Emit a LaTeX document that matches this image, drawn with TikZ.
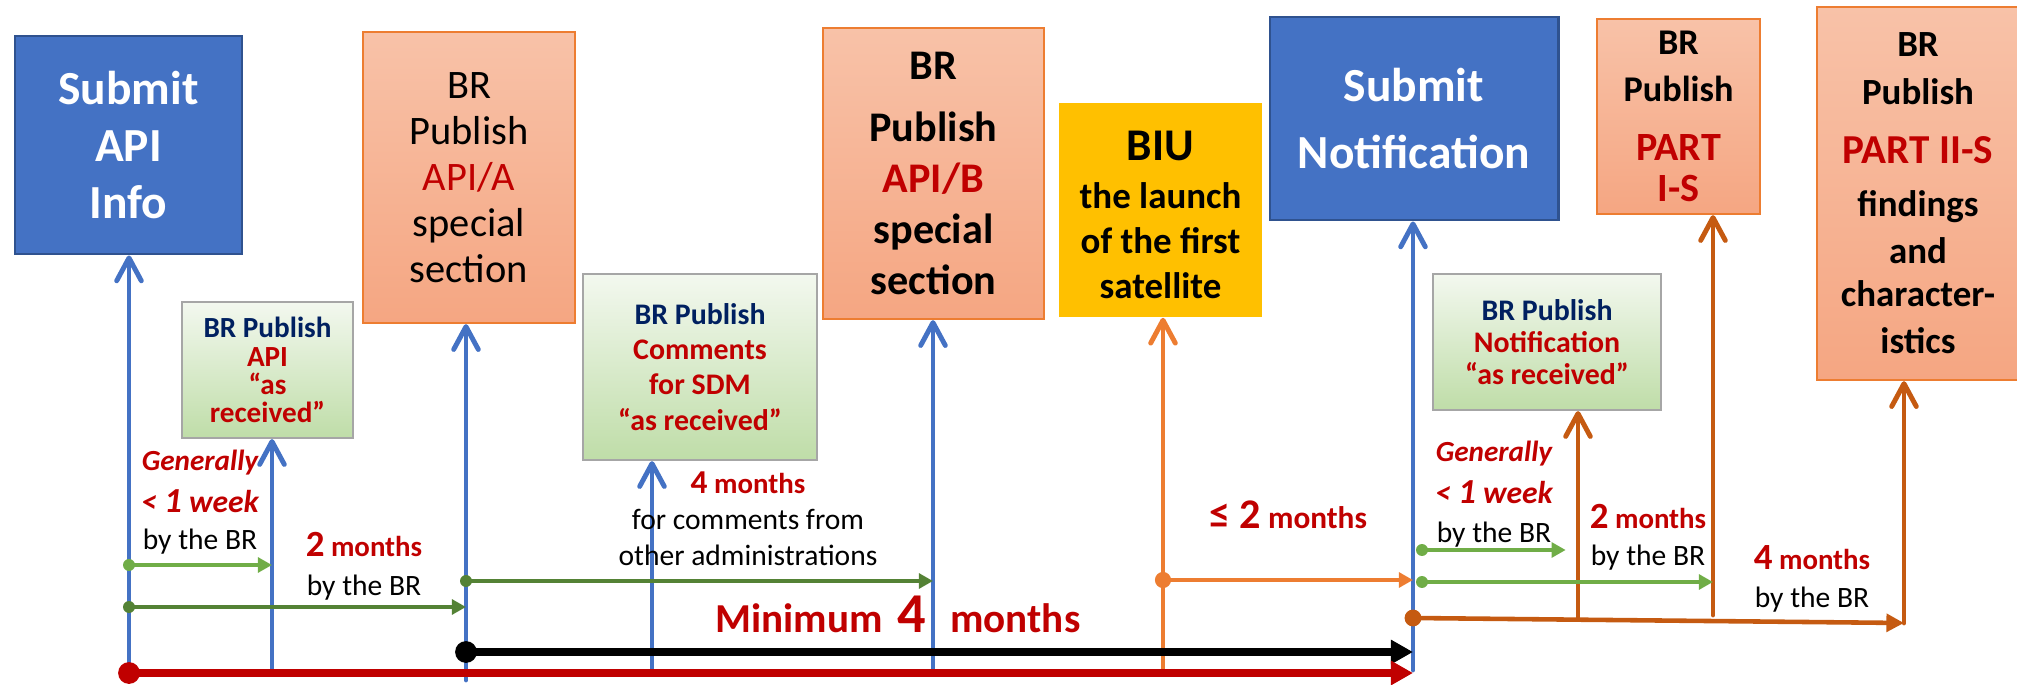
\documentclass[tikz,border=0pt]{standalone}
\usepackage{fontspec}
\setmainfont{Carlito}
\usetikzlibrary{arrows.meta}

\definecolor{subblue}{HTML}{4472C4}
\definecolor{subborder}{HTML}{2F528F}
\definecolor{brred}{HTML}{C00000}
\definecolor{brnavy}{HTML}{002060}
\definecolor{litegreen}{HTML}{70AD47}
\definecolor{darkgreen}{HTML}{548235}
\definecolor{launchorange}{HTML}{ED7D31}
\definecolor{partorange}{HTML}{C55A11}
\definecolor{biuyellow}{HTML}{FFC000}
\definecolor{salmontop}{RGB}{248,194,168}
\definecolor{salmonbot}{RGB}{245,166,130}
\definecolor{mintop}{RGB}{243,248,239}
\definecolor{minbot}{RGB}{191,221,168}

\begin{document}
\begin{tikzpicture}[x=0.01cm, y=-0.01cm,
  submitbox/.style={draw=subborder, line width=0.8pt, fill=subblue, text=white, align=center, inner sep=0pt},
  brbox/.style={draw=launchorange, line width=0.6pt, top color=salmontop, bottom color=salmonbot, align=center, inner sep=0pt},
  asbox/.style={draw=black!35, line width=0.6pt, top color=mintop, bottom color=minbot, align=center, inner sep=0pt},
  upline/.style={line width=1.4pt, line cap=round, -{Straight Barb[round,length=6.5pt,width=7pt]}},
  thinarrow/.style={line width=1.3pt, -{Triangle[length=4pt,width=4.2pt]}},
  thickarrow/.style={line width=2.1pt, -{Triangle[length=6.3pt,width=6.6pt]}},
  bylbl/.style={anchor=base, inner sep=0pt, font=\fontsize{8.4}{10}\selectfont},
  redlbl/.style={anchor=base, inner sep=0pt, text=brred, font=\bfseries\fontsize{8.2}{10}\selectfont},
  genlbl/.style={anchor=base, inner sep=0pt, text=brred, font=\bfseries\itshape\fontsize{8.3}{10}\selectfont},
  weeklbl/.style={anchor=base, inner sep=0pt, text=brred, font=\bfseries\itshape\fontsize{9}{10}\selectfont}]

  \useasboundingbox (0,0) rectangle (2017,685);

  % boxes above the time line
  \node[submitbox, minimum width=2.27cm, minimum height=2.18cm, font=\bfseries\fontsize{13.5}{16.2}\selectfont] (apiinfo) at (128.5,145) {Submit\\API\\Info};
  \node[brbox, minimum width=2.12cm, minimum height=2.91cm, font=\fontsize{11.5}{13.1}\selectfont] (apia) at (469,177.5) {BR\\Publish\\\textcolor{brred}{API/A}\\special\\section};
  \node[brbox, minimum width=2.21cm, minimum height=2.91cm, font=\bfseries\fontsize{12}{14.5}\selectfont] (apib) at (933.5,173.5) {BR\\[2.9pt]Publish\\\textcolor{brred}{API/B}\\special\\section};
  \node[fill=biuyellow, inner sep=0pt, align=center, minimum width=2.03cm, minimum height=2.14cm, font=\bfseries\fontsize{10.5}{12.8}\selectfont] (biu) at (1160.5,210) {\rule{0pt}{11pt}{\fontsize{12.9}{13}\selectfont BIU}\\[0.9pt]the launch\\of the first\\satellite};
  \node[submitbox, minimum width=2.88cm, minimum height=2.03cm, font=\bfseries\fontsize{13.5}{19.3}\selectfont] (notif) at (1414,118.5) {Submit\\Notification};
  \node[brbox, minimum width=1.63cm, minimum height=1.95cm, font=\bfseries\fontsize{10.3}{13.1}\selectfont] (partone) at (1678.5,116.5) {BR\\Publish\\[3.9pt]\textcolor{brred}{\fontsize{11.4}{13}\selectfont PART}\\[-1.6pt]\textcolor{brred}{\fontsize{11.4}{13}\selectfont I-S}};
  \node[brbox, minimum width=2.02cm, minimum height=3.73cm, font=\bfseries\fontsize{10.5}{13.4}\selectfont] (parttwo) at (1918,193.5) {BR\\Publish\\[3.6pt]\textcolor{brred}{\fontsize{11.7}{13}\selectfont PART II-S}\\[1.6pt]findings\\and\\[-1.2pt]character-\\istics};

  % "as received" boxes
  \node[asbox, minimum width=1.71cm, minimum height=1.36cm, font=\bfseries\fontsize{8.3}{8}\selectfont] (asapi) at (267.5,370) {\textcolor{brnavy}{BR Publish}\\\textcolor{brred}{API}\\\textcolor{brred}{“as}\\\textcolor{brred}{received”}};
  \node[asbox, minimum width=2.34cm, minimum height=1.86cm, font=\bfseries\fontsize{8.5}{10}\selectfont] (ascomm) at (700,367) {\textcolor{brnavy}{BR Publish}\\\textcolor{brred}{Comments}\\\textcolor{brred}{for SDM}\\\textcolor{brred}{“as received”}};
  \node[asbox, minimum width=2.28cm, minimum height=1.36cm, font=\bfseries\fontsize{8.5}{9}\selectfont] (asnotif) at (1547,342) {\textcolor{brnavy}{BR Publish}\\\textcolor{brred}{Notification}\\\textcolor{brred}{“as received”}};

  % feet of the vertical arrows
  \coordinate (tA) at (129,673);
  \coordinate (tB) at (272,673);
  \coordinate (tC) at (466,680);
  \coordinate (tD) at (652,673);
  \coordinate (tE) at (933,673);
  \coordinate (tF) at (1163,668);
  \coordinate (tG) at (1413,670);
  \coordinate (hH) at (1578,619);
  \coordinate (hI) at (1713,615);
  \coordinate (pJ) at (1904,623);

  \draw[upline, subblue] (tA) -- (tA |- apiinfo.south);
  \draw[upline, subblue] (tB) -- (tB |- asapi.south);
  \draw[upline, subblue] (tC) -- (tC |- apia.south);
  \draw[upline, subblue] (tD) -- (tD |- ascomm.south);
  \draw[upline, subblue] (tE) -- (tE |- apib.south);
  \draw[upline, launchorange] (tF) -- (tF |- biu.south);
  \draw[upline, subblue] (tG) -- (tG |- notif.south);
  \draw[upline, partorange] (hH) -- (hH |- asnotif.south);
  \draw[upline, partorange] (hI) -- (hI |- partone.south);
  \draw[upline, partorange] (pJ) -- (pJ |- parttwo.south);

  % starts of the horizontal arrows
  \coordinate (gA1) at (129,565);
  \coordinate (gA2) at (129,607);
  \coordinate (gC) at (466,581);
  \coordinate (oF) at (1163,580);
  \coordinate (gG1) at (1422,550);
  \coordinate (gG2) at (1422,582);
  \coordinate (pG) at (1413,618);
  \coordinate (kC) at (466,652);

  \draw[thinarrow, litegreen] (gA1) -- (gA1 -| tB);
  \draw[thinarrow, darkgreen] (gA2) -- (gA2 -| tC);
  \draw[thinarrow, darkgreen] (gC) -- (gC -| tE);
  \draw[thinarrow, launchorange] (oF) -- (oF -| tG);
  \draw[thinarrow, litegreen, shorten >=3.5pt] (gG1) -- (gG1 -| hH);
  \draw[thinarrow, litegreen] (gG2) -- (gG2 -| hI);
  \draw[thinarrow, partorange, -{Triangle[length=5pt,width=5pt]}] (pG) -- (pJ);
  \draw[thickarrow, black] (kC) -- (kC -| tG); % minimum 4 months
  \draw[thickarrow, brred] (tA) -- (tA -| tG); % whole procedure

  \fill[litegreen] (gA1) circle(1.7pt);
  \fill[darkgreen] (gA2) circle(1.7pt);
  \fill[darkgreen] (gC) circle(1.7pt);
  \fill[launchorange] (oF) circle(2.3pt);
  \fill[litegreen] (gG1) circle(1.7pt);
  \fill[litegreen] (gG2) circle(1.7pt);
  \fill[partorange] (pG) circle(2.4pt);
  \fill[black] (kC) circle(3.1pt);
  \fill[brred] (tA) circle(3.1pt);

  % time labels
  \node[genlbl] (genapi) at (200,470) {Generally};
  \node[weeklbl] (weekapi) at (200,512) {< {\fontsize{10}{10}\selectfont 1} week};
  \node[bylbl] (byapi) at (200,550) {by the BR};
  \node[redlbl] (twoapi) at (364,557) {{\fontsize{10.5}{12}\selectfont 2} months};
  \node[bylbl] (byapia) at (364,595) {by the BR};
  \node[redlbl] (fourcomm) at (748,493) {{\fontsize{9.5}{12}\selectfont 4} months};
  \node[bylbl] (commone) at (748,530) {for comments from};
  \node[bylbl] (commtwo) at (748,565) {other administrations};
  \node[redlbl, font=\bfseries\fontsize{11.7}{14}\selectfont] (minfour) at (898,633) {Minimum\hspace{0.15cm}{\fontsize{16}{18}\selectfont 4}\hspace{0.24cm}months};
  \node[redlbl, font=\bfseries\fontsize{8.9}{10}\selectfont] (launchtwo) at (1288,528) {{\fontsize{12}{14}\selectfont ≤ 2} months};
  \node[genlbl] (gennotif) at (1494,462) {Generally};
  \node[weeklbl] (weeknotif) at (1494,503) {< {\fontsize{10}{10}\selectfont 1} week};
  \node[bylbl] (bynotif) at (1494,542) {by the BR};
  \node[redlbl] (twopart) at (1648,528) {{\fontsize{10.5}{12}\selectfont 2} months};
  \node[bylbl] (bypartone) at (1648,565) {by the BR};
  \node[redlbl] (fourpart) at (1812,570) {{\fontsize{10.5}{12}\selectfont 4} months};
  \node[bylbl] (byparttwo) at (1812,607) {by the BR};
\end{tikzpicture}
\end{document}
